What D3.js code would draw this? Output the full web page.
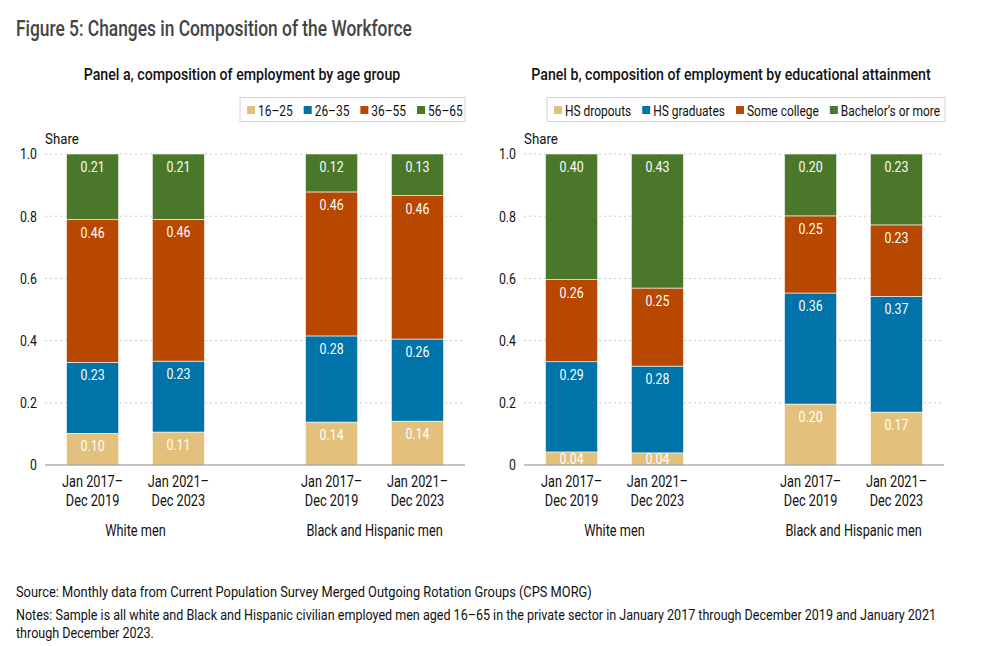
<!DOCTYPE html>
<html>
<head>
<meta charset="UTF-8">
<title>Figure 5</title>
<style>
  body { margin: 0; background: #fff; }
  text { font-family: "Roboto", "Liberation Sans", sans-serif; }
</style>
</head>
<body>
<script src="https://cdn.jsdelivr.net/npm/d3@7"></script>
<script>
// ---- data ----
var groups = ["White men", "Black and Hispanic men"];
var periods = ["Jan 2017–|Dec 2019", "Jan 2021–|Dec 2023"];
var yTicks = [0, 0.2, 0.4, 0.6, 0.8, 1.0];

var ageKeys = ["16–25", "26–35", "36–55", "56–65"];
// one row per bar: white 2017, white 2021, black/hisp 2017, black/hisp 2021
var ageValues = [
  [0.102, 0.228, 0.459, 0.211],
  [0.106, 0.228, 0.456, 0.210],
  [0.138, 0.277, 0.463, 0.122],
  [0.141, 0.264, 0.461, 0.134]
];

var eduKeys = ["HS dropouts", "HS graduates", "Some college", "Bachelor’s or more"];
var eduValues = [
  [0.042, 0.290, 0.264, 0.404],
  [0.039, 0.279, 0.251, 0.431],
  [0.196, 0.357, 0.248, 0.199],
  [0.170, 0.372, 0.230, 0.228]
];

var colors = ["#E3C17D", "#0073A8", "#B84700", "#4B772B"];

var svg = d3.select("body").append("svg")
  .attr("width", 991)
  .attr("height", 646);

// the original uses a condensed face; squeeze Roboto horizontally to match
function measure(s, size, weight) {
  var p = svg.append("text").attr("font-size", size).attr("font-weight", weight || 400).text(s);
  var w = p.node().getComputedTextLength();
  p.remove();
  return w;
}
var source = "Source: Monthly data from Current Population Survey Merged Outgoing Rotation Groups (CPS MORG)";
var notes = "Notes: Sample is all white and Black and Hispanic civilian employed men aged 16–65 in the private sector in January 2017 through December 2019 and January 2021";
var k = 576 / measure(source, 14.5);
var kn = 921 / measure(notes, 14.5);
var kc = k * 0.9;   // chart labels are a bit tighter still

function txt(parent, x, y, s, size, anchor, fill, weight, sx) {
  var t = parent.append("g")
    .attr("transform", "translate(" + x + "," + y + ") scale(" + (sx || kc) + ",1)")
    .append("text")
    .attr("font-size", size)
    .attr("text-anchor", anchor || "start")
    .attr("fill", fill || "#111")
    .attr("font-weight", weight || 400)
    .text(s);
  return t;
}

var title = "Figure 5: Changes in Composition of the Workforce";
txt(svg, 16, 36, title, 22, "start", "#444", 500, 396 / measure(title, 22, 500));

function drawPanel(x0, title, keys, values, legendX, legendW, titleX) {
  var g = svg.append("g");
  var y = d3.scaleLinear().domain([0, 1]).range([465, 154]);
  var xGroup = d3.scaleBand().domain(groups).range([x0, x0 + 420])
    .paddingInner(0.243).paddingOuter(0);
  var xPeriod = d3.scaleBand().domain(d3.range(periods.length))
    .range([0, xGroup.bandwidth()]).paddingInner(0.392).paddingOuter(0.25);

  txt(g, titleX, 80, title, 16, "middle", "#111", 500, k);

  // legend
  var leg = g.append("g");
  leg.append("rect")
    .attr("x", legendX).attr("y", 97.5)
    .attr("width", legendW).attr("height", 24)
    .attr("fill", "#fff").attr("stroke", "#d4d4d4");
  var lx = legendX + 7;
  keys.forEach(function(kk, i) {
    leg.append("rect")
      .attr("x", lx).attr("y", 106)
      .attr("width", 8).attr("height", 8)
      .attr("fill", colors[i]);
    var t = txt(leg, lx + 11, 115.5, kk, 15);
    lx += 11 + t.node().getComputedTextLength() * kc + 11;
  });

  // grid
  g.selectAll(".grid").data(yTicks.filter(function(d) { return d > 0; }))
    .enter().append("line")
    .attr("x1", x0).attr("x2", x0 + 420)
    .attr("y1", function(d) { return y(d); })
    .attr("y2", function(d) { return y(d); })
    .attr("stroke", "#c8c8c8")
    .attr("stroke-dasharray", "2,3");

  var yAxis = g.append("g")
    .attr("transform", "translate(" + (x0 - 5) + ",0)")
    .call(d3.axisLeft(y).tickValues(yTicks).tickSize(0)
      .tickFormat(function(d) { return d === 0 ? "0" : d3.format(".1f")(d); }));
  yAxis.select(".domain").remove();
  yAxis.selectAll("text")
    .attr("font-size", 15.5)
    .attr("fill", "#111")
    .attr("font-family", null)
    .attr("x", -3 / kc)
    .attr("transform", "scale(" + kc + ",1)");

  txt(g, x0, 144, "Share", 15, "start", "#111", 400, k);

  // bars
  var bars = [];
  groups.forEach(function(gr, gi) {
    periods.forEach(function(p, pi) {
      bars.push({ group: gr, period: pi, vals: values[gi * periods.length + pi] });
    });
  });

  bars.forEach(function(b) {
    var bx = xGroup(b.group) + xPeriod(b.period);
    var bw = xPeriod.bandwidth();
    var acc = 0;
    b.vals.forEach(function(v, i) {
      var top = y(acc + v), bot = y(acc);
      g.append("rect")
        .attr("x", bx).attr("y", top)
        .attr("width", bw).attr("height", bot - top)
        .attr("fill", colors[i])
        .attr("stroke", "#fff").attr("stroke-width", 0.6);
      txt(g, bx + bw / 2, Math.min(top + 18, bot - 1), d3.format(".2f")(v), 15.5, "middle", "#fff");
      acc += v;
    });
    periods[b.period].split("|").forEach(function(l, li) {
      txt(g, bx + bw / 2, 487 + li * 19, l, 16, "middle");
    });
  });

  // baseline
  g.append("line")
    .attr("x1", x0).attr("x2", x0 + 420)
    .attr("y1", y(0)).attr("y2", y(0))
    .attr("stroke", "#888").attr("stroke-width", 1.2);

  groups.forEach(function(gr) {
    txt(g, xGroup(gr) + xGroup.bandwidth() / 2, 536, gr, 16, "middle");
  });
}

drawPanel(45, "Panel a, composition of employment by age group", ageKeys, ageValues, 240, 225, 242);
drawPanel(524, "Panel b, composition of employment by educational attainment", eduKeys, eduValues, 547, 398, 731);

txt(svg, 16, 597, source, 14.5, "start", "#111", 400, k);
txt(svg, 16, 620, notes, 14.5, "start", "#111", 400, kn);
txt(svg, 16, 638, "through December 2023.", 14.5, "start", "#111", 400, kn);
</script>
</body>
</html>
